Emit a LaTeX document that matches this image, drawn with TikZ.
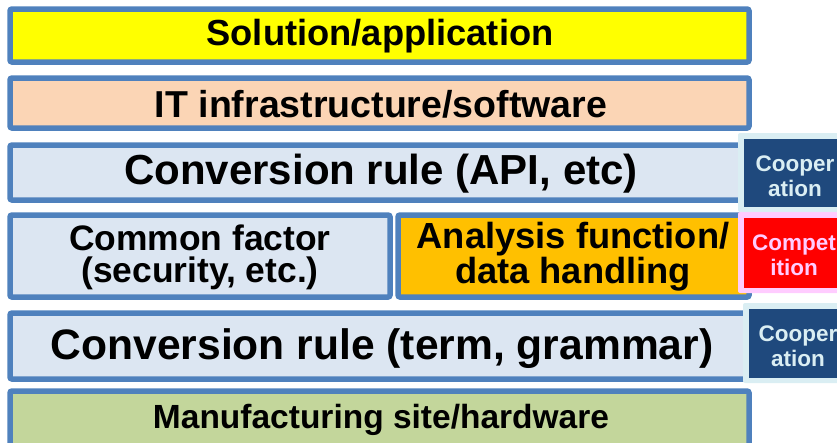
\documentclass[tikz,border=0pt]{standalone}
\usepackage{fontspec}
\setmainfont{Liberation Sans}
\definecolor{frameblue}{HTML}{4F81BD}
\definecolor{fillyellow}{HTML}{FFFF00}
\definecolor{fillpeach}{HTML}{FBD5B5}
\definecolor{filllight}{HTML}{DCE6F2}
\definecolor{fillorange}{HTML}{FFC000}
\definecolor{fillgreen}{HTML}{C3D69B}
\definecolor{darkblue}{HTML}{1F497D}
\definecolor{paleblue}{HTML}{DAEEF3}
\definecolor{palepink}{HTML}{FFCCFF}
\tikzset{
  layer/.style={draw=frameblue, line width=5.5pt, rounded corners=2pt},
  ltext/.style={font=\bfseries\fontsize{#1}{#1}\selectfont, align=center, text=black},
  twoline/.style={font=\bfseries\fontsize{#1}{32}\selectfont, align=center, text=black},
  sidetext/.style={font=\bfseries\fontsize{22.5}{25}\selectfont, align=center, text=#1},
}
\begin{document}
\begin{tikzpicture}[x=1pt, y=-1pt]
  \useasboundingbox (0,0) rectangle (837,442);
  \begin{scope}
    \clip (0,0) rectangle (837,442);
    % stacked layers
    \filldraw[layer, fill=fillyellow] (10,9) rectangle (749,62);
    \filldraw[layer, fill=fillpeach] (10,78) rectangle (749,128);
    \filldraw[layer, fill=filllight] (10,145) rectangle (749,200);
    \filldraw[layer, fill=filllight] (10,215) rectangle (390,297);
    \filldraw[layer, fill=fillorange] (398,215) rectangle (749,297);
    \filldraw[layer, fill=filllight] (10,313) rectangle (749,379);
    \filldraw[layer, fill=fillgreen] (10,391) rectangle (749,460);
    % side tags
    \fill[paleblue, rounded corners=2pt] (738,133) rectangle (860,212);
    \fill[darkblue] (744,139) rectangle (860,207);
    \fill[palepink, rounded corners=2pt] (738,212) rectangle (860,293);
    \fill[red] (744,218) rectangle (860,288);
    \fill[paleblue, rounded corners=2pt] (743,303) rectangle (860,383);
    \fill[darkblue] (749,309) rectangle (860,378);
  \end{scope}
  % layer labels
  \node[ltext=36.3] (sol) at (380,36) {Solution/application};
  \node[ltext=37.5] (it) at (381,104) {IT infrastructure/software};
  \node[ltext=42] (api) at (381,174) {Conversion rule (API, etc)};
  \node[twoline=35.4] (com) at (200,257) {Common factor\\(security, etc.)};
  \node[twoline=36.3] (ana) at (573,257) {Analysis function/\\data handling};
  \node[ltext=42.6] (term) at (382,349) {Conversion rule (term, grammar)};
  \node[ltext=33.5] (mfg) at (381,420) {Manufacturing site/hardware};
  % side labels
  \node[sidetext=paleblue] (coop1) at (795,176) {Cooper\\ation};
  \node[sidetext=palepink] (comp) at (794,255) {Compet\\ition};
  \node[sidetext=paleblue] (coop2) at (798,346) {Cooper\\ation};
\end{tikzpicture}
\end{document}
